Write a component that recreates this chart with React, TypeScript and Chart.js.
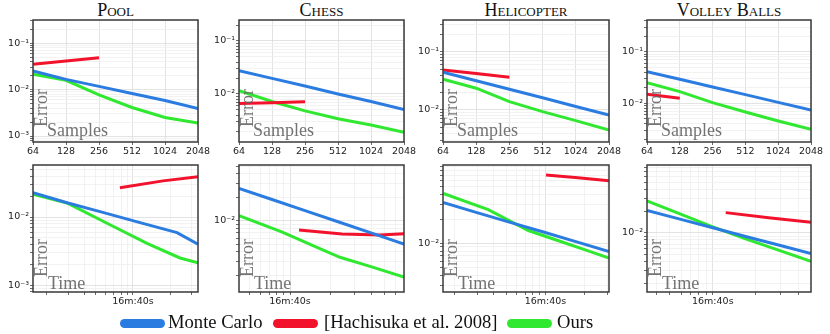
import React, { useEffect, useRef } from 'react';
import { Chart, registerables } from 'chart.js';
Chart.register(...registerables);

// ---------------- data ----------------
const SAMPLE_COUNTS = [64, 128, 256, 512, 1024, 2048];
const SAMPLE_TICK_LABELS = ['64', '128', '256', '512', '1024', '2048'];
const HACHI_COUNTS_3 = [64, 128, 256];
const HACHI_COUNTS_2 = [64, 128];
const TIME_TICK_VALUES = [1000];
const TIME_TICK_LABELS = ['16m:40s'];
const POW_TICK_LABELS: Record<string, string> = { '-3': '10⁻³', '-2': '10⁻²', '-1': '10⁻¹' };

const TITLES = ['Pool', 'Chess', 'Helicopter', 'Volley Balls'];
const LEGEND_LABELS = ['Monte Carlo', '[Hachisuka et al. 2008]', 'Ours'];
const COLORS = ['#2b7ce0', '#f3122c', '#30e830'];

// error vs samples (top row)
const POOL_MC_S = [0.025, 0.0165, 0.0117, 0.0082, 0.0058, 0.0039];
const POOL_OURS_S = [0.0213, 0.0158, 0.0077, 0.0041, 0.0025, 0.0019];
const POOL_HACHI_S = [0.035, 0.041, 0.048];
const CHESS_MC_S = [0.0275, 0.0197, 0.0141, 0.01, 0.0072, 0.0051];
const CHESS_OURS_S = [0.0116, 0.0072, 0.0048, 0.0034, 0.0026, 0.0019];
const CHESS_HACHI_S = [0.0066, 0.0068, 0.0071];
const HELI_MC_S = [0.0447, 0.0318, 0.0227, 0.0162, 0.0115, 0.0082];
const HELI_OURS_S = [0.0339, 0.0237, 0.0139, 0.00935, 0.00655, 0.00452];
const HELI_HACHI_S = [0.049, 0.0425, 0.0366];
const VOLLEY_MC_S = [0.041, 0.0291, 0.0207, 0.0147, 0.0104, 0.0074];
const VOLLEY_OURS_S = [0.0251, 0.0168, 0.0103, 0.0068, 0.00455, 0.00314];
const VOLLEY_HACHI_S = [0.0149, 0.0125];

// error vs time in seconds (bottom row)
const POOL_MC_TIME = [154, 296, 540, 1161, 2280, 3376];
const POOL_MC_T = [0.0228, 0.0161, 0.012, 0.0082, 0.0059, 0.004];
const POOL_OURS_TIME = [154, 296, 650, 1300, 2410, 3376];
const POOL_OURS_T = [0.0216, 0.0159, 0.0077, 0.0041, 0.0025, 0.00213];
const POOL_HACHI_TIME = [783, 1754, 3376];
const POOL_HACHI_T = [0.027, 0.034, 0.039];

const CHESS_MC_TIME = [419, 736, 1291, 2268, 3981, 6985];
const CHESS_MC_T = [0.026, 0.0187, 0.01346, 0.0097, 0.00698, 0.00502];
const CHESS_OURS_TIME = [419, 868, 1480, 2344, 3917, 6985];
const CHESS_OURS_T = [0.0116, 0.0072, 0.0048, 0.0034, 0.0026, 0.0019];
const CHESS_HACHI_TIME = [1166, 2427, 4641, 6985];
const CHESS_HACHI_T = [0.0076, 0.00675, 0.00656, 0.0068];

const HELI_MC_TIME = [163, 293, 527, 950, 1711, 3077];
const HELI_MC_T = [0.032, 0.0242, 0.0183, 0.0139, 0.0105, 0.0079];
const HELI_OURS_TIME = [164, 363, 738, 1293, 2075, 3077];
const HELI_OURS_T = [0.0414, 0.0262, 0.0144, 0.0106, 0.00818, 0.00657];
const HELI_HACHI_TIME = [1009, 1778, 3077];
const HELI_HACHI_T = [0.0702, 0.065, 0.0596];

const VOLLEY_MC_TIME = [345, 588, 1000, 1701, 2894, 4898];
const VOLLEY_MC_T = [0.0204, 0.01545, 0.01173, 0.0089, 0.0068, 0.0052];
const VOLLEY_OURS_TIME = [345, 588, 1000, 1701, 2894, 4898];
const VOLLEY_OURS_T = [0.0275, 0.0182, 0.0121, 0.00828, 0.00577, 0.00404];
const VOLLEY_HACHI_TIME = [1233, 2466, 4898];
const VOLLEY_HACHI_T = [0.019, 0.0161, 0.014];

// axis ranges
const TIME_RANGES: [number, number][] = [[154, 3376], [419, 6985], [163, 3077], [345, 4898]];
const Y_RANGES_SAMPLES: [number, number][] = [[0.000743, 0.313], [0.00124, 0.249], [0.0028, 0.356], [0.00178, 0.41]];
const Y_RANGES_TIME: [number, number][] = [[0.00079, 0.0582], [0.00122, 0.0518], [0.00249, 0.0935], [0.00153, 0.0861]];

// ---------------- layout ----------------
const COLS: [number, number][] = [[33, 198], [239, 404], [443, 609], [647, 811]];
const ROWS: [number, number][] = [[20, 142], [165, 292]];
const YW = 34, PT = 12, PR = 18, XH = 22;
const TICK_FONT = "'DejaVu Sans'";
const SERIF = "'Liberation Serif', 'DejaVu Serif', serif";

type Series = { x: number[]; y: number[]; color: string };

function logTicks(min: number, max: number) {
  const out: { value: number; major: boolean }[] = [];
  for (let d = Math.floor(Math.log10(min)); d <= Math.ceil(Math.log10(max)); d++) {
    for (let m = 1; m < 10; m++) {
      const v = m * Math.pow(10, d);
      if (v >= min * 0.9999 && v <= max * 1.0001) out.push({ value: v, major: m === 1 });
    }
  }
  return out;
}

function powLabel(v: number) {
  const e = Math.round(Math.log10(v));
  return POW_TICK_LABELS[String(e)] ?? '';
}

function Panel(props: { rect: [number, number, number, number]; kind: 'samples' | 'time'; xRange: [number, number]; yRange: [number, number]; series: Series[] }) {
  const { rect, kind, xRange, yRange, series } = props;
  const ref = useRef<HTMLCanvasElement>(null);
  const [L, T, R, B] = rect;
  const w = R - L + YW + PR;
  const h = B - T + PT + XH;
  useEffect(() => {
    const canvas = ref.current!;
    const xTicks = kind === 'samples'
      ? SAMPLE_COUNTS.map(v => ({ value: v, major: true }))
      : logTicks(xRange[0], xRange[1]).map(t => ({ value: t.value, major: TIME_TICK_VALUES.indexOf(t.value) >= 0 }));
    const yTicks = logTicks(yRange[0], yRange[1]);
    const gridColor = (c: any) => (c.tick && c.tick.major ? '#dcdcdc' : '#efefef');
    const chart = new Chart(canvas, {
      type: 'line',
      data: {
        datasets: series.map(s => ({
          data: s.x.map((x, i) => ({ x, y: s.y[i] })),
          borderColor: s.color,
          backgroundColor: s.color,
          borderWidth: 3,
          pointRadius: 0,
          tension: 0,
          fill: false,
          clip: 0,
        })),
      },
      options: {
        animation: false,
        responsive: false,
        maintainAspectRatio: false,
        layout: { padding: { top: PT, right: PR, left: 0, bottom: 0 } },
        plugins: { legend: { display: false }, tooltip: { enabled: false }, title: { display: false } },
        scales: {
          x: {
            type: 'logarithmic',
            min: kind === 'samples' ? SAMPLE_COUNTS[0] : xRange[0],
            max: kind === 'samples' ? SAMPLE_COUNTS[SAMPLE_COUNTS.length - 1] : xRange[1],
            afterBuildTicks: (s: any) => { s.ticks = xTicks.map(t => ({ ...t })); },
            afterFit: (s: any) => { s.height = XH; },
            border: { display: false },
            grid: { color: gridColor, lineWidth: 0.8, tickColor: '#444', tickLength: 3 },
            ticks: {
              autoSkip: false,
              maxRotation: 0,
              minRotation: 0,
              padding: 1,
              color: '#222',
              font: { family: TICK_FONT, size: 9.5 },
              callback: (v: any) => {
                if (kind === 'samples') {
                  const i = SAMPLE_COUNTS.indexOf(Number(v));
                  return i >= 0 ? SAMPLE_TICK_LABELS[i] : '';
                }
                const j = TIME_TICK_VALUES.indexOf(Number(v));
                return j >= 0 ? TIME_TICK_LABELS[j] : '';
              },
            },
          },
          y: {
            type: 'logarithmic',
            min: yRange[0],
            max: yRange[1],
            afterBuildTicks: (s: any) => { s.ticks = yTicks.map(t => ({ ...t })); },
            afterFit: (s: any) => { s.width = YW; },
            border: { display: false },
            grid: { color: gridColor, lineWidth: 0.8, tickColor: '#444', tickLength: 3 },
            ticks: {
              autoSkip: false,
              padding: 1,
              color: '#222',
              font: { family: TICK_FONT, size: 9.5 },
              callback: (v: any, i: number, ticks: any[]) => (ticks[i] && ticks[i].major ? powLabel(Number(v)) : ''),
            },
          },
        },
      },
      plugins: [
        {
          id: 'frameAndLabels',
          afterDatasetsDraw(c: any) {
            const { ctx, chartArea } = c;
            const { left, top, right, bottom } = chartArea;
            ctx.save();
            ctx.fillStyle = 'rgba(100,100,100,0.9)';
            ctx.font = `18px ${SERIF}`;
            ctx.textBaseline = 'alphabetic';
            ctx.textAlign = 'left';
            ctx.save();
            ctx.translate(left + 14, bottom - 15);
            ctx.rotate(-Math.PI / 2);
            ctx.fillText('Error', 0, 0);
            ctx.restore();
            if (kind === 'samples') ctx.fillText('Samples', left + 14, bottom - 6);
            else ctx.fillText('Time', left + 15, bottom - 3);
            ctx.strokeStyle = '#3a3a3a';
            ctx.lineWidth = 1.5;
            ctx.strokeRect(left, top, right - left, bottom - top);
            ctx.restore();
          },
        },
      ],
    } as any);
    return () => chart.destroy();
  }, []);
  return (
    <div style={{ position: 'absolute', left: L - YW, top: T - PT, width: w, height: h }}>
      <canvas ref={ref} width={w} height={h} style={{ display: 'block', width: w, height: h }} />
    </div>
  );
}

const SAMPLE_SERIES: Series[][] = [
  [
    { x: SAMPLE_COUNTS, y: POOL_MC_S, color: COLORS[0] },
    { x: HACHI_COUNTS_3, y: POOL_HACHI_S, color: COLORS[1] },
    { x: SAMPLE_COUNTS, y: POOL_OURS_S, color: COLORS[2] },
  ],
  [
    { x: SAMPLE_COUNTS, y: CHESS_MC_S, color: COLORS[0] },
    { x: HACHI_COUNTS_3, y: CHESS_HACHI_S, color: COLORS[1] },
    { x: SAMPLE_COUNTS, y: CHESS_OURS_S, color: COLORS[2] },
  ],
  [
    { x: SAMPLE_COUNTS, y: HELI_MC_S, color: COLORS[0] },
    { x: HACHI_COUNTS_3, y: HELI_HACHI_S, color: COLORS[1] },
    { x: SAMPLE_COUNTS, y: HELI_OURS_S, color: COLORS[2] },
  ],
  [
    { x: SAMPLE_COUNTS, y: VOLLEY_MC_S, color: COLORS[0] },
    { x: HACHI_COUNTS_2, y: VOLLEY_HACHI_S, color: COLORS[1] },
    { x: SAMPLE_COUNTS, y: VOLLEY_OURS_S, color: COLORS[2] },
  ],
];

const TIME_SERIES: Series[][] = [
  [
    { x: POOL_MC_TIME, y: POOL_MC_T, color: COLORS[0] },
    { x: POOL_HACHI_TIME, y: POOL_HACHI_T, color: COLORS[1] },
    { x: POOL_OURS_TIME, y: POOL_OURS_T, color: COLORS[2] },
  ],
  [
    { x: CHESS_MC_TIME, y: CHESS_MC_T, color: COLORS[0] },
    { x: CHESS_HACHI_TIME, y: CHESS_HACHI_T, color: COLORS[1] },
    { x: CHESS_OURS_TIME, y: CHESS_OURS_T, color: COLORS[2] },
  ],
  [
    { x: HELI_MC_TIME, y: HELI_MC_T, color: COLORS[0] },
    { x: HELI_HACHI_TIME, y: HELI_HACHI_T, color: COLORS[1] },
    { x: HELI_OURS_TIME, y: HELI_OURS_T, color: COLORS[2] },
  ],
  [
    { x: VOLLEY_MC_TIME, y: VOLLEY_MC_T, color: COLORS[0] },
    { x: VOLLEY_HACHI_TIME, y: VOLLEY_HACHI_T, color: COLORS[1] },
    { x: VOLLEY_OURS_TIME, y: VOLLEY_OURS_T, color: COLORS[2] },
  ],
];

const LEGEND_POS = [
  { bar: 120, text: 168 },
  { bar: 273, text: 324 },
  { bar: 507, text: 557 },
];

export default function App() {
  return (
    <div style={{ position: 'fixed', left: 0, top: 0, width: 830, height: 334, background: '#fff', overflow: 'hidden' }}>
      {TITLES.map((t, i) => {
        const [l, r] = COLS[i];
        return (
          <div
            key={'t' + i}
            style={{
              position: 'absolute', left: (l + r) / 2 - 100, width: 200, top: 2, textAlign: 'center',
              fontFamily: SERIF, fontSize: 18, lineHeight: '16px', fontVariant: 'small-caps', color: '#111',
            }}
          >
            {t}
          </div>
        );
      })}
      {COLS.map((c, i) => (
        <Panel key={'s' + i} rect={[c[0], ROWS[0][0], c[1], ROWS[0][1]]} kind="samples" xRange={[SAMPLE_COUNTS[0], SAMPLE_COUNTS[5]]} yRange={Y_RANGES_SAMPLES[i]} series={SAMPLE_SERIES[i]} />
      ))}
      {COLS.map((c, i) => (
        <Panel key={'b' + i} rect={[c[0], ROWS[1][0], c[1], ROWS[1][1]]} kind="time" xRange={TIME_RANGES[i]} yRange={Y_RANGES_TIME[i]} series={TIME_SERIES[i]} />
      ))}
      {LEGEND_LABELS.map((lab, i) => (
        <React.Fragment key={'l' + i}>
          <div style={{ position: 'absolute', left: LEGEND_POS[i].bar, top: 319, width: 45, height: 9, borderRadius: 4.5, background: COLORS[i] }} />
          <div style={{ position: 'absolute', left: LEGEND_POS[i].text, top: 312, fontFamily: SERIF, fontSize: 18.6, lineHeight: '19px', color: '#111', whiteSpace: 'nowrap' }}>{lab}</div>
        </React.Fragment>
      ))}
    </div>
  );
}
